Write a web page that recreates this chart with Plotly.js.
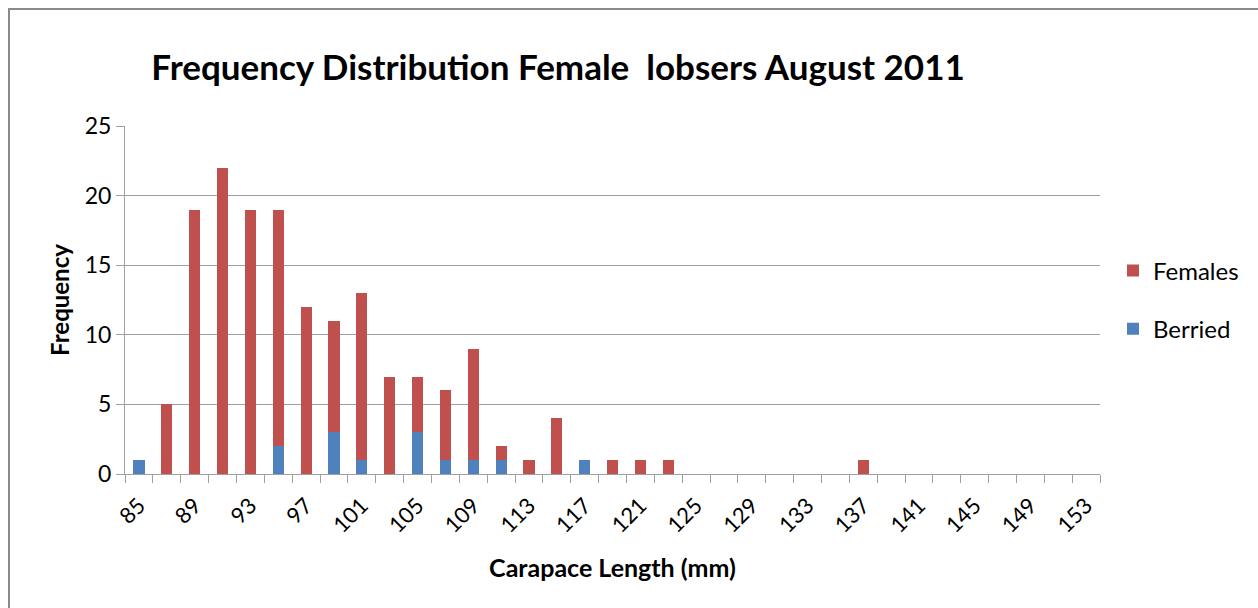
<!DOCTYPE html>
<html>
<head>
<meta charset="utf-8">
<script src="https://cdn.plot.ly/plotly-3.0.1.min.js"></script>
<style>
  html, body { margin: 0; padding: 0; overflow: hidden; background: #fff; }
  #chart { width: 1258px; height: 608px; }
  #frame { position: absolute; left: 8px; top: 8px; width: 1400px; height: 800px;
           border: 2px solid #8a8a8a; pointer-events: none; }
</style>
</head>
<body>
<div id="chart"></div>
<div id="frame"></div>
<script>
// Carapace length classes (mm)
const lengths = [85, 87, 89, 91, 93, 95, 97, 99, 101, 103, 105, 107, 109, 111, 113, 115, 117, 119, 121, 123,
                 125, 127, 129, 131, 133, 135, 137, 139, 141, 143, 145, 147, 149, 151, 153];
// Berried females (bottom of stack)
const berried = [1, 0, 0, 0, 0, 2, 0, 3, 1, 0, 3, 1, 1, 1, 0, 0, 1, 0, 0, 0,
                 0, 0, 0, 0, 0, 0, 0, 0, 0, 0, 0, 0, 0, 0, 0];
// Other females (stacked on top)
const females = [0, 5, 19, 22, 19, 17, 12, 8, 12, 7, 4, 5, 8, 1, 1, 4, 0, 1, 1, 1,
                 0, 0, 0, 0, 0, 0, 1, 0, 0, 0, 0, 0, 0, 0, 0];
// Labelled ticks
const tickLabels = [85, 89, 93, 97, 101, 105, 109, 113, 117, 121, 125, 129, 133, 137, 141, 145, 149, 153];

const FONT = 'Lato, "Open Sans", sans-serif';
const GRID = '#a0a0a0';

const data = [
  { type: 'bar', name: 'Berried', x: lengths, y: berried,
    marker: { color: '#4F81BD', line: { width: 0 } }, legendgroup: 'b', legendrank: 2 },
  { type: 'bar', name: 'Females', x: lengths, y: females,
    marker: { color: '#C0504D', line: { width: 0 } }, legendgroup: 'f', legendrank: 1 }
];

const layout = {
  width: 1258, height: 608,
  margin: { l: 125, r: 158, t: 126, b: 134 },
  paper_bgcolor: '#fff', plot_bgcolor: '#fff',
  barmode: 'stack', bargap: 0.6,
  font: { family: FONT, color: '#000', size: 20 },
  title: { text: '<b>Frequency Distribution Female  lobsers August 2011</b>',
           font: { family: FONT, size: 35, color: '#000' },
           xref: 'container', yref: 'container', x: 558 / 1258, xanchor: 'center',
           y: 1 - 68 / 608, yanchor: 'middle' },
  xaxis: {
    range: [84, 154], tickmode: 'array', tickvals: tickLabels, ticktext: tickLabels.map(String),
    tickangle: -45, ticks: '', showgrid: false, zeroline: false,
    showline: true, linecolor: GRID, linewidth: 1, ticklabelstandoff: 9,
    tickfont: { family: FONT, size: 22, color: '#000' },
    minor: { tickmode: 'linear', tick0: 84, dtick: 2, ticks: 'outside', ticklen: 8, tickcolor: GRID, showgrid: false },
    title: { text: '<b>Carapace Length (mm)</b>', font: { family: FONT, size: 25, color: '#000' }, standoff: 22 }
  },
  yaxis: {
    range: [0, 25], dtick: 5, ticks: 'outside', ticklen: 8, tickcolor: GRID,
    showgrid: true, gridcolor: GRID, gridwidth: 1, zeroline: false,
    showline: true, linecolor: GRID, linewidth: 1,
    tickfont: { family: FONT, size: 23, color: '#000' },
    title: { text: '<b>Frequency</b>', font: { family: FONT, size: 24, color: '#000' }, standoff: 8 }
  },
  showlegend: true,
  legend: { x: (1113 - 125) / 975, xanchor: 'left', y: 0.5, yanchor: 'middle',
            traceorder: 'grouped', tracegroupgap: 24,
            font: { family: FONT, size: 24, color: '#000' }, bgcolor: 'rgba(0,0,0,0)' }
};

Plotly.newPlot('chart', data, layout, { displayModeBar: false, staticPlot: true });
</script>
</body>
</html>
